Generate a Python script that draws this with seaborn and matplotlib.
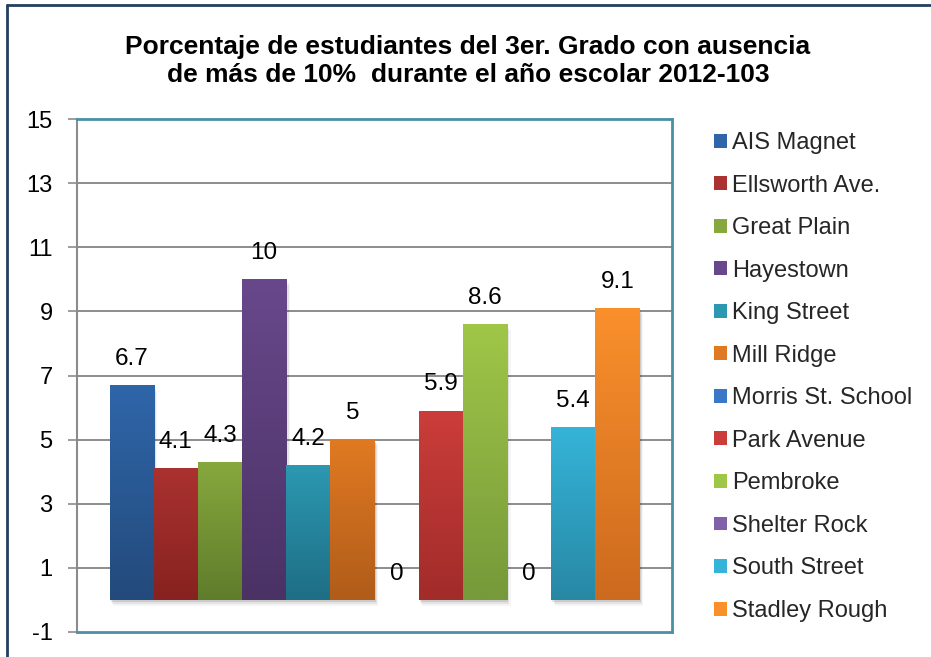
import numpy as np
import pandas as pd
import matplotlib
matplotlib.use("Agg")
import matplotlib.pyplot as plt
import seaborn as sns
from matplotlib.patches import Rectangle
from matplotlib.lines import Line2D
from matplotlib.colors import to_rgb

schools = ["AIS Magnet", "Ellsworth Ave.", "Great Plain", "Hayestown", "King Street",
           "Mill Ridge", "Morris St. School", "Park Avenue", "Pembroke", "Shelter Rock",
           "South Street", "Stadley Rough"]
values = [6.7, 4.1, 4.3, 10, 4.2, 5, 0, 5.9, 8.6, 0, 5.4, 9.1]
top_colors = ["#2f66a9", "#aa3230", "#86a83d", "#68488b", "#2c98b2", "#e07a22",
              "#3a77c6", "#cb3d3a", "#a0c648", "#8060a9", "#35b4d9", "#fa902c"]
bottom_colors = ["#234a7b", "#86221f", "#5f7c2c", "#4a3265", "#1e6e84", "#b05c1a",
                 "#2a5a9a", "#a12c2a", "#76993a", "#5d4480", "#2888a4", "#cc6a1e"]
title = "Porcentaje de estudiantes del 3er. Grado con ausencia\nde más de 10%  durante el año escolar 2012-103"
yticks = [-1, 1, 3, 5, 7, 9, 11, 13, 15]

sns.set_theme(style="white")
plt.rcParams['font.family'] = ['Liberation Sans', 'DejaVu Sans']

df = pd.DataFrame({"cat": ["x"] * len(schools), "school": schools, "value": values})

fig = plt.figure(figsize=(9.31, 6.57), dpi=100)
ax = fig.add_axes([77 / 931, 1 - 632 / 657, (672 - 77) / 931, (632 - 119) / 657])

sns.barplot(data=df, x="cat", y="value", hue="school", hue_order=schools,
            palette=top_colors, width=530 / 595, dodge=True, ax=ax,
            errorbar=None, legend=False, linewidth=0, saturation=1)

ax.set_xlim(-0.5, 0.5)
ax.set_ylim(-1, 15)

# gradient fills + soft shadow
for cont, c1, c2 in zip(ax.containers, top_colors, bottom_colors):
    for p in cont.patches:
        x0, y0 = p.get_x(), p.get_y()
        w, h = p.get_width(), p.get_height()
        if h <= 0:
            continue
        for k, a in enumerate([0.10, 0.07, 0.04]):
            ax.add_patch(Rectangle((x0 + 0.002 * (k + 1), y0 - 0.06 * (k + 1)), w, h,
                                   facecolor="black", alpha=a, linewidth=0, zorder=1.5))
        t = np.linspace(0, 1, 256)[:, None]
        a1, a2 = np.array(to_rgb(c1)), np.array(to_rgb(c2))
        grad = (a2 * (1 - t) + a1 * t)[:, None, :].repeat(2, axis=1)
        im = ax.imshow(grad, extent=[x0, x0 + w, y0, y0 + h], origin="lower",
                       aspect="auto", zorder=2.5, interpolation="bilinear")
        im.set_clip_path(p)
        p.set_facecolor("none")
        p.set_zorder(2.6)

ax.set_xlim(-0.5, 0.5)
ax.set_ylim(-1, 15)

for cont in ax.containers:
    ax.bar_label(cont, fmt="%g", padding=11, fontsize=17.5, color="black")

ax.set_yticks(yticks)
ax.set_yticklabels([str(v) for v in yticks], fontsize=17, color="black")
ax.tick_params(axis="y", length=6.5, width=1.2, color="#8c8c8c", pad=11, left=True)
ax.tick_params(axis="x", bottom=False, labelbottom=False)
ax.set_xlabel("")
ax.set_ylabel("")
for v in yticks[1:-1]:
    ax.axhline(v, color="#8c8c8c", linewidth=1.4, zorder=1)

for s in ["top", "right", "bottom"]:
    ax.spines[s].set_color("#4a90a3")
    ax.spines[s].set_linewidth(2)
ax.spines["left"].set_color("#8c8c8c")
ax.spines["left"].set_linewidth(1.5)

fig.text(468 / 931, 1 - 61 / 657, title, ha="center", va="center",
         fontsize=19, fontweight="bold", linespacing=1.2, color="black")

handles = [Rectangle((0, 0), 1, 1, facecolor=c, edgecolor="none") for c in top_colors]
leg = fig.legend(handles, schools, loc="upper left", bbox_to_anchor=(714 / 931, 1 - 132 / 657),
                 frameon=False, fontsize=17, handlelength=0.53, handleheight=0.53,
                 handletextpad=0.22, labelspacing=0.87, borderaxespad=0, borderpad=0)

# figure border (top and left visible)
fig.add_artist(Line2D([6.5 / 931, 6.5 / 931], [0, 1 - 4.5 / 657], transform=fig.transFigure,
                      color="#243f60", linewidth=2))
fig.add_artist(Line2D([6.5 / 931, 1], [1 - 4.5 / 657, 1 - 4.5 / 657], transform=fig.transFigure,
                      color="#243f60", linewidth=2))

fig.savefig("out.png", dpi=100)
